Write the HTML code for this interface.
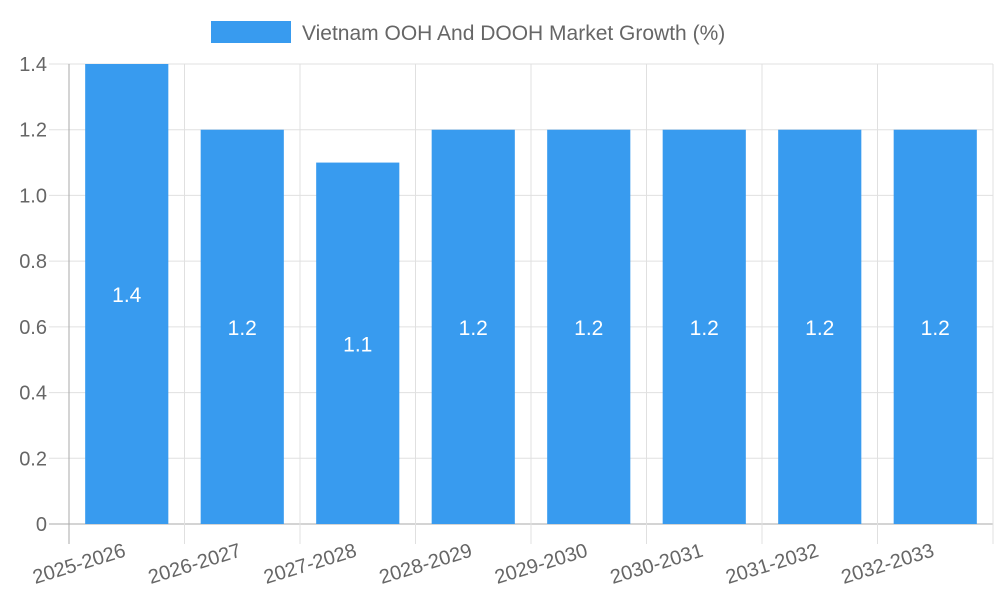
<!DOCTYPE html>
<html><head><meta charset="utf-8"><style>body{margin:0;background:#fff}svg{display:block;font-family:"Liberation Sans",sans-serif}</style></head>
<body>
<svg id="chart" width="1000" height="600"></svg>
<script>
const categories=["2025-2026","2026-2027","2027-2028","2028-2029","2029-2030","2030-2031","2031-2032","2032-2033"];
const values=[1.4,1.2,1.1,1.2,1.2,1.2,1.2,1.2];
const yTicks=[0,0.2,0.4,0.6,0.8,1.0,1.2,1.4];
const yTickLabels=["0","0.2","0.4","0.6","0.8","1.0","1.2","1.4"];
const svg=document.getElementById('chart');
const NS="http://www.w3.org/2000/svg";
const X0=69,X1=993,Y0=524,Y1=64,yMax=1.4;
const bw=(X1-X0)/categories.length;
const y=v=>Y0-(v/yMax)*(Y0-Y1);
const xc=i=>X0+bw*(i+0.5);
function mk(t,a,p){const e=document.createElementNS(NS,t);for(const k in a)e.setAttribute(k,a[k]);(p||svg).appendChild(e);return e;}
// grid
yTicks.forEach((t,i)=>{
 const l=mk('line',{x1:49,x2:X1,y1:y(t),y2:y(t),stroke:i==0?'#aaa':'#e0e0e0','stroke-width':1});
 
 
 const tx=mk('text',{x:47,y:y(t)+7,'text-anchor':'end','font-size':20,fill:'#666'});
 tx.textContent=yTickLabels[i];
 
 
});
for(let i=0;i<=categories.length;i++){
 const gx=X0+bw*i;
 const l=mk('line',{x1:gx,x2:gx,y1:Y1,y2:544,stroke:i==0?'#aaa':'#e0e0e0','stroke-width':1});
 
 
}
categories.forEach((c,i)=>{
 const w=bw*0.72;
 const r=mk('rect',{x:xc(i)-w/2,y:y(values[i]),width:w,height:Y0-y(values[i]),fill:'#389bef'});
 
 
 const v=mk('text',{x:xc(i),y:(y(values[i])+Y0)/2+8,'text-anchor':'middle','font-size':21,fill:'#fff'});
 v.textContent=values[i];
 
 
 const t=mk('text',{x:xc(i),y:556,'text-anchor':'end','font-size':20,fill:'#666',transform:`rotate(-17 ${xc(i)} 556)`});
 t.textContent=c;
 
 
});
const lg=mk('rect',{x:211,y:21,width:80,height:22,fill:'#389bef'});


const lt=mk('text',{x:302,y:40,'font-size':21,fill:'#666'});
lt.textContent="Vietnam OOH And DOOH Market Growth (%)";


</script>
</body></html>
